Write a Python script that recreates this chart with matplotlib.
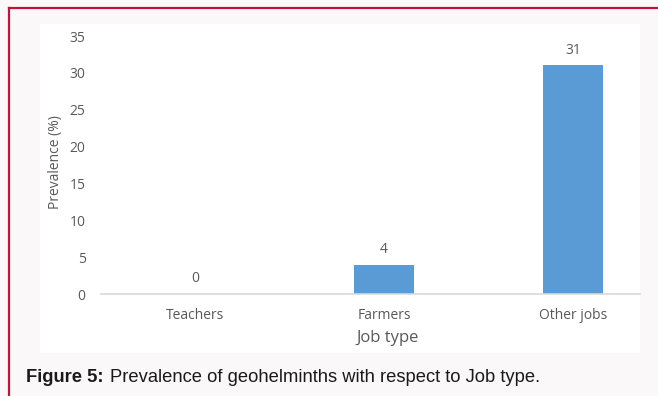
import matplotlib.pyplot as plt
from matplotlib.patches import Rectangle
from matplotlib.lines import Line2D

jobs = ["Teachers", "Farmers", "Other jobs"]
prevalence = [0, 4, 31]
y_ticks = [0, 5, 10, 15, 20, 25, 30, 35]

W, H = 658, 396
bar_color = "#5b9bd5"
text_gray = "#595959"

fig = plt.figure(figsize=(W / 100, H / 100), dpi=100)
fig.patch.set_facecolor("#fbf8f9")

# white chart panel and the red frame lines (top and left)
fig.patches.append(Rectangle((40 / W, 1 - 353 / H), 600 / W, 329 / H,
                             transform=fig.transFigure, facecolor="white",
                             edgecolor="none", zorder=-5))
fig.lines.append(Line2D([9 / W, 1], [1 - 8 / H, 1 - 8 / H], transform=fig.transFigure,
                        color="#c8103e", linewidth=1.6))
fig.lines.append(Line2D([9 / W, 9 / W], [0, 1 - 8 / H], transform=fig.transFigure,
                        color="#c8103e", linewidth=1.6))

ax = fig.add_axes([101 / W, 1 - 294 / H, 539 / W, 258 / H])
ax.set_zorder(2)
ax.set_facecolor("none")
x = list(range(len(jobs)))
ax.bar(x, prevalence, width=0.32, color=bar_color, zorder=2)
ax.set_xlim((101 - 195) / 189, (640 - 195) / 189)
ax.set_ylim(0, 35)
ax.set_yticks(y_ticks)
ax.set_xticks(x)
ax.set_xticklabels(jobs)

for sp in ["top", "right", "left"]:
    ax.spines[sp].set_visible(False)
ax.spines["bottom"].set_color("#d9d9d9")
ax.spines["bottom"].set_linewidth(1.2)
ax.tick_params(axis="both", length=0, labelsize=10, labelcolor=text_gray)
ax.tick_params(axis="y", pad=11)
ax.tick_params(axis="x", pad=10)
for lab in ax.get_xticklabels() + ax.get_yticklabels():
    lab.set_family("Open Sans")

for xi, v in zip(x, prevalence):
    ax.annotate(str(v), (xi, v), xytext=(0, 5.5), textcoords="offset points",
                ha="center", va="bottom", fontsize=10, color=text_gray,
                family="Open Sans")

ax.set_ylabel("Prevalence (%)", fontsize=10, color=text_gray, family="Open Sans")
ax.set_xlabel("Job type", fontsize=12, color=text_gray, family="Open Sans")
ax.yaxis.label.set_va("center")
ax.xaxis.label.set_va("center")
ax.yaxis.set_label_coords(-0.0853, 0.51)
ax.xaxis.set_label_coords(0.532, -0.1705)

fig.text(26 / W, 1 - 377 / H, "Figure 5:", fontsize=13.2, fontweight="bold",
         family="Liberation Sans", va="center", ha="left", color="#1a1a1a")
fig.text(110 / W, 1 - 377 / H, "Prevalence of geohelminths with respect to Job type.",
         fontsize=13.2, family="Liberation Sans", va="center", ha="left", color="#1a1a1a")

fig.savefig("out.png", dpi=100, facecolor=fig.get_facecolor())
